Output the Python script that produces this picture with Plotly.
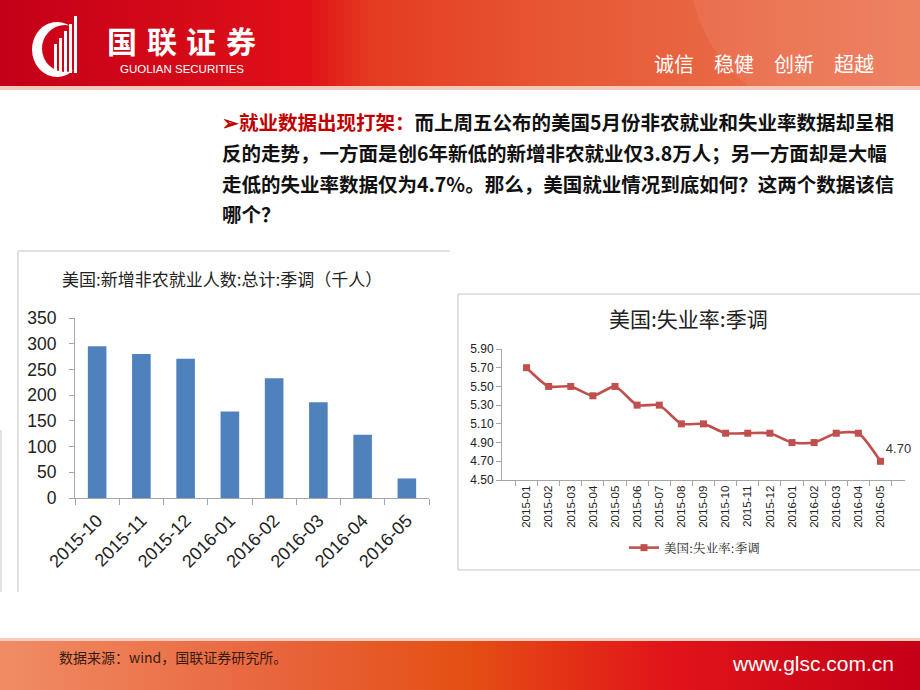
import plotly.graph_objects as go

W, H = 920, 690

# ---------------- data ----------------
nfp_months = ["2015-10", "2015-11", "2015-12", "2016-01", "2016-02", "2016-03", "2016-04", "2016-05"]
nfp_values = [295, 280, 271, 168, 233, 186, 123, 38]

ur_months = ["2015-01", "2015-02", "2015-03", "2015-04", "2015-05", "2015-06", "2015-07", "2015-08",
             "2015-09", "2015-10", "2015-11", "2015-12", "2016-01", "2016-02", "2016-03", "2016-04", "2016-05"]
ur_values = [5.7, 5.5, 5.5, 5.4, 5.5, 5.3, 5.3, 5.1, 5.1, 5.0, 5.0, 5.0, 4.9, 4.9, 5.0, 5.0, 4.7]
ur_labels = [""] * (len(ur_values) - 1) + ["4.70"]
ur_ticks = [4.5, 4.7, 4.9, 5.1, 5.3, 5.5, 5.7, 5.9]

title_left = "美国:新增非农就业人数:总计:季调（千人）"
title_right = "美国:失业率:季调"
legend_right = "美国:失业率:季调"
para_lines = [
    "<span style='color:#c00000'>➢就业数据出现打架：</span>而上周五公布的美国5月份非农就业和失业率数据却呈相",
    "反的走势，一方面是创6年新低的新增非农就业仅3.8万人；另一方面却是大幅",
    "走低的失业率数据仅为4.7%。那么，美国就业情况到底如何？这两个数据该信",
    "哪个？",
]
logo_chars = ["国", "联", "证", "券"]
logo_en = "GUOLIAN SECURITIES"
slogan = "诚信　稳健　创新　超越"
source_note = "数据来源：wind，国联证券研究所。"
site = "www.glsc.com.cn"

CJK = "Noto Sans CJK SC"


def px(x):
    return x / W


def py(y):
    return 1 - y / H


def lerp_color(stops, t):
    for i in range(len(stops) - 1):
        t0, c0 = stops[i]
        t1, c1 = stops[i + 1]
        if t0 <= t <= t1:
            f = (t - t0) / (t1 - t0) if t1 > t0 else 0
            c = [int(round(c0[k] + (c1[k] - c0[k]) * f)) for k in range(3)]
            return "rgb(%d,%d,%d)" % tuple(c)
    c = stops[-1][1]
    return "rgb(%d,%d,%d)" % tuple(c)


def rect(x0, y0, x1, y1, color, layer="above"):
    return dict(type="rect", xref="paper", yref="paper", x0=px(x0), x1=px(x1), y0=py(y1), y1=py(y0),
                fillcolor=color, line=dict(width=0), layer=layer)


shapes = []

# header gradient
head_stops = [(0, (196, 0, 24)), (0.33, (224, 16, 24)), (0.40, (228, 60, 32)), (0.6, (230, 88, 50)),
              (0.8, (233, 105, 70)), (1.0, (236, 122, 88))]
step = 8
for x0 in range(0, W, step):
    shapes.append(rect(x0, 0, x0 + step + 1, 87, lerp_color(head_stops, x0 / W), "below"))
shapes.append(dict(type="circle", xref="paper", yref="paper", x0=px(690), x1=px(1010), y0=py(120), y1=py(-180),
                   fillcolor="rgba(255,255,255,0.07)", line=dict(width=0), layer="below"))
shapes.append(rect(0, 86, W, 90, "rgb(245,200,185)", "below"))

# footer gradient
foot_stops = [(0, (240, 140, 100)), (0.3, (232, 100, 60)), (0.5, (228, 80, 20)), (0.72, (225, 20, 25)),
              (1.0, (196, 0, 22))]
for x0 in range(0, W, step):
    shapes.append(rect(x0, 640, x0 + step + 1, 690, lerp_color(foot_stops, x0 / W), "below"))
shapes.append(rect(0, 638, W, 641, "rgb(245,205,190)", "below"))

# logo emblem
shapes.append(dict(type="circle", xref="paper", yref="paper", x0=px(32), x1=px(82), y0=py(77), y1=py(22),
                   fillcolor="white", line=dict(width=0)))
shapes.append(dict(type="circle", xref="paper", yref="paper", x0=px(42), x1=px(88), y0=py(72), y1=py(25),
                   fillcolor="rgb(205,4,24)", line=dict(width=0)))
for bx, top in [(54, 44), (59, 38), (64, 31), (69, 24), (74, 16)]:
    shapes.append(rect(bx, top, bx + 3, 73, "white"))

# panel borders
border = dict(color="#d9d9d9", width=1.5)
shapes += [
    dict(type="line", xref="paper", yref="paper", x0=px(18), x1=px(450), y0=py(251), y1=py(251), line=border),
    dict(type="line", xref="paper", yref="paper", x0=px(18), x1=px(18), y0=py(251), y1=py(592), line=border),
    dict(type="line", xref="paper", yref="paper", x0=px(458), x1=px(920), y0=py(294), y1=py(294), line=border),
    dict(type="line", xref="paper", yref="paper", x0=px(458), x1=px(458), y0=py(294), y1=py(570), line=border),
    dict(type="line", xref="paper", yref="paper", x0=px(458), x1=px(920), y0=py(570), y1=py(570), line=border),
    dict(type="line", xref="paper", yref="paper", x0=px(1), x1=px(1), y0=py(430), y1=py(592), line=border),
]

fig = go.Figure()

fig.add_trace(go.Bar(x=nfp_months, y=nfp_values, marker=dict(color="#4f81bd", line=dict(width=0)),
                     width=0.42, xaxis="x", yaxis="y", showlegend=False))

fig.add_trace(go.Scatter(x=ur_months, y=ur_values, mode="lines+markers+text", name=legend_right,
                         line=dict(color="#c0504d", width=2.6, shape="spline", smoothing=0.6),
                         marker=dict(symbol="square", size=7, color="#c0504d"),
                         text=ur_labels, textposition="top right", cliponaxis=False,
                         textfont=dict(family="Liberation Sans", size=13, color="#333333"),
                         xaxis="x2", yaxis="y2", showlegend=True))

annotations = []


def note(text, x, y, size, color="#222222", family=CJK, xanchor="left"):
    annotations.append(dict(text=text, x=px(x), y=py(y), xref="paper", yref="paper", showarrow=False,
                            font=dict(family=family, size=size, color=color), xanchor=xanchor, yanchor="middle"))


note(title_left, 222, 278, 17, xanchor="center")
note(title_right, 688, 318, 21, xanchor="center")

for i, line in enumerate(para_lines):
    note("<b>" + line + "</b>", 220, 122 + i * 30.5, 19.5, color="#111111")

for i, ch in enumerate(logo_chars):
    note("<b>" + ch + "</b>", 122 + i * 39.5, 40, 30, color="white", xanchor="center")
note(logo_en, 182, 68.5, 11.5, color="white", family="Liberation Sans", xanchor="center")
note(slogan, 876, 63, 20, color="white", xanchor="right")
note(source_note, 57, 657, 14, color="#3a1a10")
note(site, 896, 663, 21, color="white", family="Liberation Sans", xanchor="right")

axis_line = "#a6a6a6"
fig.update_layout(
    width=W, height=H, margin=dict(l=0, r=0, t=0, b=0, pad=0, autoexpand=False),
    paper_bgcolor="white", plot_bgcolor="white",
    shapes=shapes, annotations=annotations,
    xaxis=dict(domain=[px(75), px(429)], anchor="y", type="category", tickangle=-45, automargin=False,
               ticklabelstandoff=4,
               tickfont=dict(family="Liberation Sans", size=18, color="#222222"),
               showline=True, linecolor=axis_line, linewidth=1, ticks="outside", tickson="boundaries",
               ticklen=6, tickcolor=axis_line, showgrid=False, zeroline=False),
    yaxis=dict(domain=[py(498), py(318)], anchor="x", range=[0, 350], tickvals=[0, 50, 100, 150, 200, 250, 300, 350],
               automargin=False, ticklabelstandoff=9,
               tickfont=dict(family="Liberation Sans", size=17.5, color="#222222"),
               showline=True, linecolor=axis_line, linewidth=1, ticks="outside", ticklen=5, tickcolor=axis_line,
               showgrid=False, zeroline=False),
    xaxis2=dict(domain=[px(502), px(905)], anchor="y2", type="category", tickangle=-90, automargin=False,
                tickfont=dict(family="Liberation Sans", size=11.5, color="#222222"),
                showline=True, linecolor=axis_line, linewidth=1, ticks="outside", tickson="boundaries",
                ticklen=5, tickcolor=axis_line, showgrid=False, zeroline=False),
    yaxis2=dict(domain=[py(480), py(349)], anchor="x2", range=[4.5, 5.9], tickvals=ur_ticks, tickformat=".2f",
                automargin=False,
                tickfont=dict(family="Liberation Sans", size=12, color="#222222"),
                showline=True, linecolor=axis_line, linewidth=1, ticks="outside", ticklen=5, tickcolor=axis_line,
                showgrid=False, zeroline=False),
    legend=dict(x=px(624), y=py(548), xanchor="left", yanchor="middle", bgcolor="rgba(0,0,0,0)",
                font=dict(family="Noto Serif CJK SC, Noto Sans CJK SC", size=12.5, color="#222222"),
                itemwidth=30),
)

fig.write_html("out.html")
